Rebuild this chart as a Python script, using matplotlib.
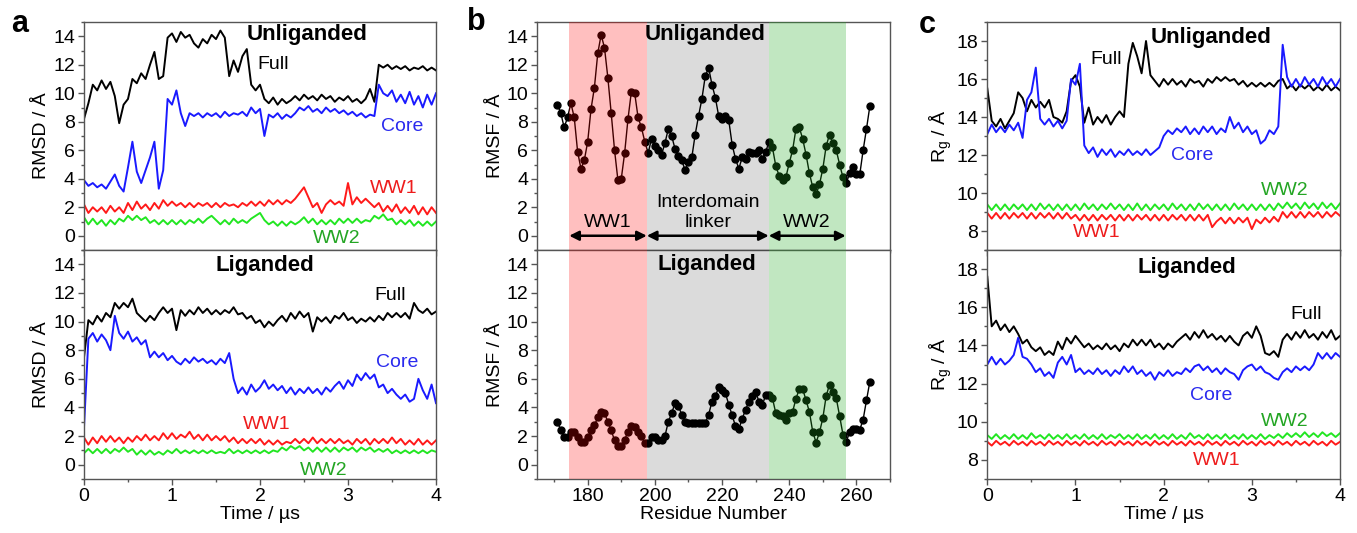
import numpy as np
import matplotlib
matplotlib.use("Agg")
import matplotlib.pyplot as plt
from matplotlib.ticker import MultipleLocator

plt.rcParams['font.family'] = ['Liberation Sans', 'DejaVu Sans']
plt.rcParams['mathtext.fontset'] = 'custom'
plt.rcParams['mathtext.rm'] = 'Liberation Sans'
plt.rcParams['mathtext.it'] = 'Liberation Sans:italic'

# ---------------- data ----------------
TIME = np.round(np.arange(0, 81) * 0.05, 2)  # µs

# panel a, unliganded RMSD
A_UNL_FULL = [8.2, 9.3, 10.6, 10.2, 10.9, 10.3, 10.8, 9.8, 7.9, 9.2, 9.6, 11.0, 10.7, 11.4, 11.0, 12.0, 12.9,
              11.0, 11.2, 13.9, 14.2, 13.6, 14.3, 13.9, 14.1, 13.5, 13.2, 13.8, 13.5, 14.1, 13.8, 14.4, 13.9,
              11.2, 12.3, 11.5, 12.6, 13.1, 10.6, 10.2, 10.6, 9.6, 9.3, 9.7, 9.2, 9.6, 9.3, 9.5, 9.8, 9.5, 9.9,
              9.6, 9.8, 9.5, 9.9, 9.6, 9.8, 9.4, 9.7, 9.5, 9.8, 9.4, 9.6, 9.3, 9.6, 10.3, 9.4, 12.0, 11.8, 12.0,
              11.7, 11.9, 11.7, 11.9, 11.6, 11.8, 11.7, 11.9, 11.6, 11.8, 11.6]
A_UNL_CORE = [3.9, 3.5, 3.7, 3.4, 3.6, 3.3, 3.8, 4.3, 3.5, 3.1, 4.8, 6.6, 4.5, 3.7, 4.6, 5.5, 6.6, 3.3, 4.6,
              9.6, 9.2, 10.2, 8.6, 7.7, 8.6, 8.4, 8.6, 8.3, 8.6, 8.4, 8.6, 8.3, 8.7, 8.4, 8.6, 8.5, 8.7, 8.4,
              9.0, 8.6, 8.9, 7.0, 8.5, 8.3, 8.6, 8.2, 8.5, 8.3, 8.6, 9.0, 8.8, 9.1, 8.7, 8.9, 8.6, 9.0, 8.7,
              8.9, 8.6, 8.8, 8.5, 8.7, 8.4, 8.6, 8.3, 8.5, 8.4, 10.6, 10.0, 9.8, 10.2, 9.4, 9.9, 9.3, 10.1,
              9.2, 9.8, 9.0, 9.9, 9.2, 10.0]
A_UNL_WW1 = [2.2, 1.6, 2.0, 1.7, 2.0, 1.6, 2.1, 1.7, 2.0, 1.6, 2.3, 1.8, 2.4, 1.9, 2.2, 1.8, 2.3, 1.9, 2.5,
             2.1, 2.4, 2.1, 2.3, 2.0, 2.3, 2.0, 2.3, 2.1, 2.3, 2.0, 2.3, 2.0, 2.3, 2.1, 2.2, 2.0, 2.3, 2.1,
             2.4, 2.1, 2.4, 2.1, 2.5, 2.2, 2.5, 2.2, 2.5, 2.3, 2.6, 3.0, 3.4, 2.7, 2.0, 2.3, 1.6, 2.2, 2.5,
             2.2, 2.4, 2.1, 3.7, 2.2, 2.7, 2.3, 2.6, 2.3, 2.0, 2.3, 1.7, 2.1, 1.7, 2.2, 1.6, 2.0, 1.6, 2.1,
             1.5, 2.0, 1.5, 2.0, 1.6]
A_UNL_WW2 = [1.3, 0.8, 1.2, 0.8, 1.1, 0.7, 1.1, 0.8, 1.2, 1.0, 1.4, 1.1, 1.4, 1.1, 1.3, 0.9, 1.1, 0.8, 1.1,
             0.8, 1.1, 0.8, 1.1, 0.8, 1.1, 0.9, 1.2, 0.9, 1.2, 1.4, 1.1, 0.8, 1.1, 0.8, 1.2, 0.9, 1.1, 0.9,
             1.2, 1.4, 1.6, 1.1, 0.8, 1.0, 0.7, 1.0, 0.7, 1.0, 0.8, 1.0, 1.3, 0.9, 1.2, 0.8, 1.1, 0.8, 1.1,
             0.8, 1.2, 0.9, 1.2, 0.9, 1.2, 0.9, 1.1, 1.0, 1.4, 1.2, 1.5, 1.1, 1.2, 0.8, 1.1, 0.8, 1.1, 0.7,
             1.0, 0.7, 1.0, 0.7, 1.0]

# panel a, liganded RMSD
A_LIG_FULL = [7.5, 10.1, 9.8, 10.4, 10.0, 10.6, 10.3, 11.3, 10.9, 11.3, 11.0, 11.6, 10.6, 10.3, 10.0, 10.4,
              10.1, 10.6, 11.0, 10.6, 10.9, 9.4, 10.8, 10.4, 10.8, 10.5, 11.0, 10.6, 10.9, 10.5, 10.8, 10.5,
              10.8, 10.6, 11.0, 10.5, 10.6, 10.2, 10.4, 9.9, 10.1, 9.6, 10.0, 9.7, 10.1, 10.4, 10.0, 10.6,
              10.2, 10.7, 10.3, 10.6, 9.3, 10.3, 10.0, 10.3, 9.9, 10.4, 10.2, 10.6, 10.1, 10.3, 9.9, 10.2,
              10.0, 10.3, 10.0, 10.4, 10.1, 10.6, 10.3, 10.6, 10.3, 10.6, 10.2, 11.3, 10.8, 10.6, 10.9, 10.5,
              10.7]
A_LIG_CORE = [2.6, 8.8, 9.2, 8.6, 9.1, 8.7, 8.0, 10.4, 9.2, 8.8, 9.3, 8.6, 8.9, 8.4, 8.7, 7.5, 7.9, 7.5, 7.8,
              7.3, 7.6, 7.2, 7.0, 7.4, 7.1, 7.5, 7.2, 7.4, 7.1, 7.3, 7.0, 7.4, 7.1, 7.8, 6.0, 5.0, 5.4, 4.9,
              5.6, 5.1, 5.4, 5.9, 5.3, 5.6, 5.2, 5.5, 5.0, 5.4, 4.9, 5.3, 5.0, 5.4, 5.0, 5.3, 4.9, 5.4, 5.1,
              5.5, 5.8, 5.3, 5.9, 5.5, 6.3, 5.9, 6.4, 6.0, 6.3, 5.4, 5.6, 5.0, 5.3, 4.9, 4.6, 4.9, 4.4, 4.6,
              6.0, 5.2, 4.6, 5.6, 4.3]
A_LIG_WW1 = [1.9, 1.4, 1.9, 1.5, 2.0, 1.6, 2.0, 1.6, 1.9, 1.5, 1.9, 1.6, 2.0, 1.7, 2.1, 1.7, 2.0, 1.7, 2.2,
             1.8, 2.2, 1.8, 2.1, 1.9, 2.3, 1.8, 2.1, 1.7, 2.1, 1.7, 2.0, 1.7, 2.0, 1.6, 1.9, 1.5, 1.8, 1.5,
             1.8, 1.5, 1.8, 1.4, 1.7, 1.4, 1.7, 1.4, 1.6, 1.5, 1.8, 1.5, 1.8, 1.5, 1.9, 1.5, 1.8, 1.5, 1.8,
             1.5, 1.8, 1.5, 1.7, 1.4, 1.8, 1.5, 1.8, 1.4, 1.8, 1.5, 1.8, 1.5, 1.9, 1.5, 1.8, 1.4, 1.7, 1.4,
             1.8, 1.4, 1.7, 1.4, 1.7]
A_LIG_WW2 = [0.8, 1.1, 0.8, 1.1, 0.8, 1.1, 0.8, 1.1, 0.9, 1.2, 0.9, 1.1, 0.7, 1.0, 0.7, 1.0, 0.7, 0.9, 0.7,
             1.0, 0.8, 1.1, 0.8, 1.0, 0.8, 1.0, 0.8, 1.0, 0.8, 1.0, 0.8, 0.9, 0.8, 1.1, 0.8, 1.0, 0.8, 1.0,
             0.8, 1.0, 0.8, 1.0, 0.8, 1.0, 0.9, 1.2, 1.0, 1.3, 1.1, 1.3, 1.0, 1.2, 0.9, 1.2, 0.9, 1.2, 0.9,
             1.2, 0.9, 1.2, 1.0, 1.2, 0.9, 1.2, 1.0, 1.2, 0.9, 1.1, 0.9, 1.1, 0.8, 1.0, 0.8, 1.0, 0.8, 1.0,
             0.8, 1.0, 0.8, 1.0, 0.9]

# panel b, RMSF per residue
RESIDUES = list(range(171, 265))
B_UNL = [9.2, 8.6, 7.6, 8.3, 9.3, 8.3, 5.9, 4.7, 5.3, 6.6, 8.9, 10.4, 12.8, 14.1, 13.2, 11.1, 8.6, 6.0, 3.9,
         4.0, 5.8, 8.2, 10.1, 10.0, 8.3, 7.6, 6.6, 5.8, 6.8, 6.3, 6.0, 5.7, 6.5, 7.5, 7.0, 6.1, 5.6, 5.3,
         4.6, 5.2, 5.5, 7.1, 8.4, 9.6, 11.2, 11.8, 10.6, 9.7, 8.4, 8.2, 8.4, 8.1, 6.4, 5.4, 4.7, 5.5, 5.4,
         5.9, 5.8, 5.8, 6.0, 5.4, 5.9, 6.6, 6.2, 4.9, 4.2, 3.9, 4.1, 5.1, 6.0, 7.5, 7.6, 6.8, 5.7, 4.4,
         3.4, 2.9, 3.6, 4.7, 6.3, 7.1, 6.5, 6.0, 5.0, 4.1, 3.7, 4.4, 4.8, 4.3, 4.3, 6.0, 7.5, 9.1]
B_LIG = [3.0, 2.4, 1.9, 1.9, 2.3, 2.3, 1.9, 1.6, 1.6, 1.9, 2.4, 2.75, 3.3, 3.7, 3.6, 3.0, 2.4, 1.7, 1.3,
         1.3, 1.75, 2.3, 2.7, 2.6, 2.3, 2.0, 1.5, 1.5, 1.9, 1.9, 1.75, 1.75, 2.0, 3.0, 3.6, 4.3, 4.1, 3.5,
         3.0, 2.9, 2.9, 2.9, 2.9, 2.9, 2.9, 3.5, 4.4, 4.8, 5.4, 5.2, 5.0, 4.2, 3.45, 2.7, 2.5, 3.2, 3.85,
         4.4, 4.8, 5.1, 4.4, 4.15, 4.9, 4.85, 4.65, 3.6, 3.45, 3.4, 3.15, 3.6, 3.7, 4.6, 5.3, 5.3, 4.5,
         3.7, 2.3, 1.55, 2.25, 3.25, 4.8, 5.6, 5.1, 4.65, 3.4, 2.1, 1.6, 2.3, 2.5, 2.5, 2.45, 3.15, 4.5, 5.8]
DOMAINS = ['WW1', 'Interdomain\nlinker', 'WW2']
DOMAIN_BOUNDS = [(174.5, 197.6), (197.6, 233.9), (233.9, 256.8)]
DOMAIN_COLORS = ['#ff0000', '#000000', '#22aa22']
DOMAIN_ALPHAS = [0.25, 0.14, 0.28]

# panel c, radius of gyration
C_UNL_FULL = [15.5, 13.8, 13.5, 13.9, 13.4, 13.8, 14.2, 15.3, 15.0, 14.3, 14.9, 14.5, 14.8, 14.5, 14.9, 14.0,
              13.9, 13.7, 14.3, 15.9, 16.2, 15.6, 13.7, 14.5, 13.6, 14.0, 13.7, 14.1, 13.6, 14.0, 14.3, 14.0,
              16.8, 17.9, 17.2, 16.3, 18.0, 16.2, 15.9, 15.6, 16.0, 15.7, 16.0, 15.7, 15.9, 15.6, 16.0, 15.8,
              15.9, 15.6, 16.0, 15.8, 16.1, 15.9, 16.1, 15.9, 16.0, 15.7, 15.9, 15.6, 15.8, 15.6, 15.8, 15.6,
              15.8, 15.6, 15.9, 16.0, 15.5, 15.7, 15.4, 15.7, 15.5, 15.7, 15.4, 15.6, 15.4, 15.7, 15.4, 15.6,
              15.4]
C_UNL_CORE = [13.1, 13.6, 13.2, 13.5, 13.2, 13.6, 13.3, 13.7, 12.9, 14.9, 15.3, 16.6, 13.9, 13.6, 13.9, 13.5,
              13.8, 13.4, 13.8, 16.0, 15.7, 16.8, 12.5, 12.1, 12.4, 11.9, 12.3, 12.0, 12.3, 11.9, 12.2, 12.0,
              12.3, 12.0, 12.2, 12.0, 12.3, 12.0, 12.2, 12.4, 13.0, 13.3, 13.1, 13.4, 13.2, 13.5, 13.1, 13.4,
              13.1, 13.5, 13.2, 13.5, 13.1, 13.4, 13.2, 14.0, 13.4, 13.7, 13.2, 13.5, 13.1, 13.3, 12.6, 12.8,
              13.3, 13.1, 13.5, 17.8, 16.1, 15.6, 16.0, 15.6, 16.1, 15.7, 16.0, 15.6, 16.1, 15.7, 16.0, 15.6,
              16.0]
C_UNL_WW1 = [8.95, 8.65, 8.95, 8.65, 8.95, 8.65, 8.95, 8.7, 8.95, 8.65, 8.95, 8.65, 8.95, 8.7, 8.95, 8.65,
             8.95, 8.65, 8.95, 8.65, 8.85, 8.55, 8.85, 8.55, 8.85, 8.55, 8.85, 8.6, 8.85, 8.55, 8.85, 8.55,
             8.85, 8.55, 8.85, 8.6, 8.85, 8.55, 8.85, 8.55, 8.85, 8.55, 8.85, 8.6, 8.85, 8.55, 8.85, 8.55,
             8.85, 8.55, 8.85, 8.2, 8.5, 8.7, 8.4, 8.7, 8.4, 8.7, 8.45, 8.7, 8.1, 8.6, 8.4, 8.7, 8.45, 8.75,
             8.5, 9.0, 8.7, 9.0, 8.7, 9.0, 8.7, 9.0, 8.75, 9.0, 8.7, 9.0, 8.75, 9.0, 8.8]
C_UNL_WW2 = [9.4, 9.1, 9.4, 9.1, 9.4, 9.1, 9.4, 9.15, 9.4, 9.1, 9.4, 9.1, 9.45, 9.15, 9.4, 9.1, 9.4, 9.1,
             9.4, 9.1, 9.4, 9.1, 9.45, 9.15, 9.4, 9.1, 9.4, 9.15, 9.45, 9.15, 9.4, 9.1, 9.4, 9.1, 9.45, 9.1,
             9.4, 9.1, 9.4, 9.15, 9.4, 9.1, 9.45, 9.15, 9.4, 9.1, 9.4, 9.1, 9.45, 9.15, 9.4, 9.1, 9.4, 9.1,
             9.4, 9.1, 9.45, 9.15, 9.4, 9.1, 9.4, 9.1, 9.4, 9.1, 9.4, 9.1, 9.45, 9.2, 9.5, 9.2, 9.45, 9.15,
             9.5, 9.2, 9.45, 9.15, 9.5, 9.2, 9.45, 9.15, 9.45]
C_LIG_FULL = [17.6, 15.0, 15.3, 14.8, 15.1, 14.7, 15.0, 14.6, 14.1, 14.3, 13.9, 13.7, 13.9, 13.5, 13.7, 13.5,
              14.2, 13.8, 14.4, 14.1, 14.5, 14.2, 13.9, 14.1, 13.8, 14.0, 13.8, 14.1, 13.8, 14.0, 13.7, 14.1,
              13.9, 14.3, 14.0, 14.3, 14.0, 14.3, 13.9, 14.1, 13.8, 14.1, 13.9, 14.2, 14.4, 14.6, 14.3, 14.7,
              14.4, 14.8, 14.4, 14.6, 14.3, 14.5, 14.2, 14.5, 14.2, 14.0, 14.5, 14.7, 14.4, 15.0, 14.5, 13.6,
              13.5, 13.7, 13.4, 14.3, 14.6, 14.3, 14.7, 14.4, 14.8, 14.4, 14.6, 14.3, 14.7, 14.4, 14.8, 14.3,
              14.5]
C_LIG_CORE = [13.0, 13.4, 13.0, 13.3, 13.0, 13.2, 13.5, 14.4, 13.4, 13.3, 13.0, 12.6, 12.8, 12.4, 12.6, 12.3,
              13.1, 13.4, 13.0, 13.5, 12.6, 12.8, 12.5, 12.7, 12.5, 12.8, 12.5, 12.7, 12.4, 12.7, 12.5, 12.9,
              12.6, 12.9, 12.5, 12.7, 12.4, 12.6, 12.2, 12.6, 12.4, 12.7, 12.4, 12.6, 12.5, 12.8, 12.6, 12.9,
              13.0, 12.7, 12.9, 12.6, 12.8, 12.5, 12.8, 12.6, 12.5, 12.2, 12.7, 12.9, 13.0, 12.7, 12.9, 12.6,
              12.5, 12.3, 12.2, 12.6, 12.8, 12.6, 12.9, 12.7, 12.9, 12.7, 13.0, 13.6, 13.3, 13.6, 13.3, 13.6,
              13.4]
C_LIG_WW1 = [8.95, 8.75, 9.0, 8.8, 8.95, 8.75, 9.0, 8.8, 8.95, 8.75, 9.0, 8.8, 8.95, 8.75, 9.0, 8.8, 8.95,
             8.75, 9.0, 8.8, 8.95, 8.75, 9.0, 8.8, 8.95, 8.75, 9.0, 8.8, 8.95, 8.75, 9.0, 8.8, 8.95, 8.75,
             9.0, 8.8, 8.95, 8.75, 9.0, 8.8, 8.95, 8.75, 9.0, 8.8, 8.95, 8.75, 9.0, 8.8, 8.95, 8.75, 9.0,
             8.8, 8.95, 8.75, 9.0, 8.8, 8.95, 8.75, 9.0, 8.8, 8.95, 8.75, 9.0, 8.8, 8.95, 8.75, 9.0, 8.8,
             8.95, 8.75, 9.0, 8.8, 8.95, 8.75, 9.0, 8.8, 8.95, 8.75, 9.0, 8.8, 8.95]
C_LIG_WW2 = [9.3, 9.1, 9.35, 9.1, 9.3, 9.1, 9.35, 9.1, 9.3, 9.1, 9.4, 9.15, 9.3, 9.1, 9.35, 9.1, 9.3, 9.1,
             9.35, 9.1, 9.3, 9.1, 9.35, 9.1, 9.3, 9.1, 9.35, 9.1, 9.3, 9.15, 9.35, 9.1, 9.3, 9.1, 9.35, 9.1,
             9.3, 9.1, 9.35, 9.1, 9.3, 9.1, 9.35, 9.1, 9.3, 9.1, 9.4, 9.15, 9.3, 9.1, 9.35, 9.1, 9.3, 9.1,
             9.35, 9.1, 9.3, 9.1, 9.35, 9.1, 9.3, 9.1, 9.35, 9.1, 9.3, 9.15, 9.35, 9.15, 9.4, 9.2, 9.4, 9.2,
             9.45, 9.2, 9.4, 9.2, 9.45, 9.25, 9.4, 9.2, 9.4]

SERIES = ['Full', 'Core', 'WW1', 'WW2']
LINE_COLORS = {'Full': '#000000', 'Core': '#1a1aff', 'WW1': '#ff1a1a', 'WW2': '#22e622'}
TEXT_COLORS = {'Full': '#000000', 'Core': '#2a2aee', 'WW1': '#ee1c1c', 'WW2': '#23a523'}

# label positions (data coords) for each subplot
A_UNL_LABELS = {'Full': (2.15, 12.0), 'Core': (3.62, 7.65), 'WW1': (3.52, 3.3), 'WW2': (2.87, -0.2)}
A_LIG_LABELS = {'Full': (3.48, 11.85), 'Core': (3.56, 7.15), 'WW1': (2.08, 2.8), 'WW2': (2.72, -0.4)}
C_UNL_LABELS = {'Full': (1.35, 17.05), 'Core': (2.32, 11.95), 'WW1': (1.24, 7.9), 'WW2': (3.37, 10.15)}
C_LIG_LABELS = {'Full': (3.62, 15.6), 'Core': (2.54, 11.4), 'WW1': (2.6, 7.97), 'WW2': (3.37, 10.0)}

# ---------------- figure ----------------
W, H = 1357, 533
fig = plt.figure(figsize=(W / 100, H / 100), dpi=100)

def frac_axes(x0, x1, y0, y1):
    return fig.add_axes([x0 / W, 1 - y1 / H, (x1 - x0) / W, (y1 - y0) / H])

FS = 14
SPINE = '#555555'

def style(ax, show_xlabels):
    for s in ax.spines.values():
        s.set_color(SPINE)
        s.set_linewidth(1.0)
    ax.tick_params(which='both', direction='out', top=False, right=False, color=SPINE,
                   labelsize=FS, pad=2)
    ax.tick_params(which='major', length=4.5, width=1)
    ax.tick_params(which='minor', length=2.5, width=1)
    if not show_xlabels:
        ax.tick_params(axis='x', labelbottom=False)

def draw_traces(ax, data, labels):
    for name in SERIES:
        ax.plot(TIME, data[name], color=LINE_COLORS[name], lw=1.4, zorder=2)
    for name, (x, y) in labels.items():
        ax.text(x, y, name, color=TEXT_COLORS[name], fontsize=FS, ha='center', va='center', zorder=5)

# panel a
a_top = frac_axes(84, 436, 22, 250)
a_bot = frac_axes(84, 436, 250, 479)
draw_traces(a_top, {'Full': A_UNL_FULL, 'Core': A_UNL_CORE, 'WW1': A_UNL_WW1, 'WW2': A_UNL_WW2}, A_UNL_LABELS)
draw_traces(a_bot, {'Full': A_LIG_FULL, 'Core': A_LIG_CORE, 'WW1': A_LIG_WW1, 'WW2': A_LIG_WW2}, A_LIG_LABELS)
for ax, show in ((a_top, False), (a_bot, True)):
    ax.set_xlim(0, 4)
    ax.set_ylim(-1, 15)
    ax.xaxis.set_major_locator(MultipleLocator(1))
    ax.xaxis.set_minor_locator(MultipleLocator(0.5))
    ax.yaxis.set_major_locator(MultipleLocator(2))
    ax.yaxis.set_minor_locator(MultipleLocator(1))
    style(ax, show)
    ax.set_ylabel('RMSD / Å', fontsize=FS, labelpad=2)
a_top.text(2.53, 14.1, 'Unliganded', fontsize=16, fontweight='bold', ha='center', va='center')
a_bot.text(2.06, 13.9, 'Liganded', fontsize=16, fontweight='bold', ha='center', va='center')
a_bot.set_xlabel('Time / µs', fontsize=FS, labelpad=1)

# panel b
b_top = frac_axes(537.3, 890, 22, 250)
b_bot = frac_axes(537.3, 890, 250, 479)
for ax, vals, show in ((b_top, B_UNL, False), (b_bot, B_LIG, True)):
    ax.plot(RESIDUES, vals, color='k', lw=1.0, marker='o', ms=5, zorder=2)
    for (lo, hi), col, al in zip(DOMAIN_BOUNDS, DOMAIN_COLORS, DOMAIN_ALPHAS):
        ax.axvspan(lo, hi, color=col, alpha=al, lw=0, zorder=3)
    ax.set_xlim(165, 270)
    ax.set_ylim(-1, 15)
    ax.xaxis.set_major_locator(MultipleLocator(20))
    ax.xaxis.set_minor_locator(MultipleLocator(10))
    ax.yaxis.set_major_locator(MultipleLocator(2))
    ax.yaxis.set_minor_locator(MultipleLocator(1))
    style(ax, show)
    ax.set_ylabel('RMSF / Å', fontsize=FS, labelpad=2)
b_top.text(214.8, 14.1, 'Unliganded', fontsize=16, fontweight='bold', ha='center', va='center', zorder=6)
b_bot.text(215.4, 14.0, 'Liganded', fontsize=16, fontweight='bold', ha='center', va='center', zorder=6)
b_bot.set_xlabel('Residue Number', fontsize=FS, labelpad=1)
for (lo, hi), name in zip(DOMAIN_BOUNDS, DOMAINS):
    b_top.annotate('', xy=(hi, 0), xytext=(lo, 0),
                   arrowprops=dict(arrowstyle='<|-|>', color='k', lw=1.8, mutation_scale=14,
                                   shrinkA=0, shrinkB=0), zorder=6)
    b_top.text((lo + hi) / 2, 0.3, name, fontsize=FS, ha='center', va='bottom', zorder=6,
               linespacing=1.25)

# panel c
c_top = frac_axes(987.3, 1340, 22, 250)
c_bot = frac_axes(987.3, 1340, 250, 479)
draw_traces(c_top, {'Full': C_UNL_FULL, 'Core': C_UNL_CORE, 'WW1': C_UNL_WW1, 'WW2': C_UNL_WW2}, C_UNL_LABELS)
draw_traces(c_bot, {'Full': C_LIG_FULL, 'Core': C_LIG_CORE, 'WW1': C_LIG_WW1, 'WW2': C_LIG_WW2}, C_LIG_LABELS)
for ax, show in ((c_top, False), (c_bot, True)):
    ax.set_xlim(0, 4)
    ax.set_ylim(7, 19)
    ax.xaxis.set_major_locator(MultipleLocator(1))
    ax.xaxis.set_minor_locator(MultipleLocator(0.5))
    ax.yaxis.set_major_locator(MultipleLocator(2))
    ax.yaxis.set_minor_locator(MultipleLocator(1))
    style(ax, show)
    ax.set_ylabel(r'R$_\mathregular{g}$ / Å', fontsize=FS, labelpad=2)
c_top.text(2.54, 18.2, 'Unliganded', fontsize=16, fontweight='bold', ha='center', va='center')
c_bot.text(2.26, 18.1, 'Liganded', fontsize=16, fontweight='bold', ha='center', va='center')
c_bot.set_xlabel('Time / µs', fontsize=FS, labelpad=1)

# panel letters
for x, y, lab in ((20, 24, 'a'), (476, 22, 'b'), (927, 25, 'c')):
    fig.text(x / W, 1 - y / H, lab, fontsize=22, fontweight='bold', ha='center', va='center')

fig.savefig('out.png', dpi=100)
